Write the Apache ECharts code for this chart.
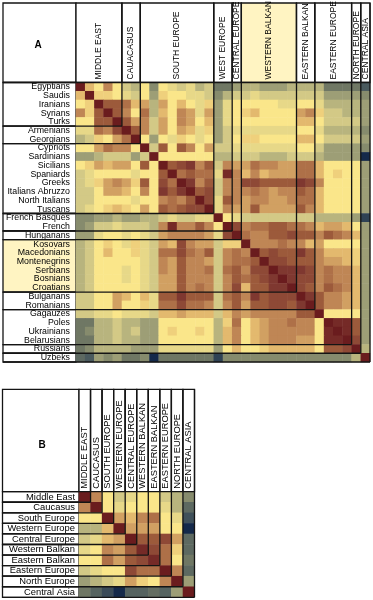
<!DOCTYPE html>
<html><head><meta charset="utf-8">
<script src="https://cdn.jsdelivr.net/npm/echarts@6/dist/echarts.min.js"></script>
<style>html,body{margin:0;padding:0;background:#fff}#c{width:373px;height:600px}</style>
</head><body><div id="c"></div>
<script>
// ---------- DATA ----------
const popsA = ['Egyptians','Saudis','Iranians','Syrians','Turks','Armenians','Georgians','Cypriots','Sardinians','Sicilians','Spaniards','Greeks','Italians Abruzzo','North Italians','Tuscans','French Basques','French','Hungarians','Kosovars','Macedonians','Montenegrins','Serbians','Bosnians','Croatians','Bulgarians','Romanians','Gagauzes','Poles','Ukrainians','Belarusians','Russians','Uzbeks'];
const groupNamesA = ['MIDDLE EAST','CAUACASUS','SOUTH EUROPE','WEST EUROPE','CENTRAL EUROPE','WESTERN BALKAN','EASTERN BALKAN','EASTERN EUROPE','NORTH EUROPE','CENTRAL ASIA'];
const groupSizesA = [5,2,8,2,1,6,2,4,1,1];
const matrixA = [
[10,6,5,7,5,4,3.5,5,2.5,5,4.5,4,4.5,3.5,4,2, 2,3,3.5,3.5,3,3,3,3.5,3.5,3.5,3.5,2,2,2,2,1],
[6,10,5.5,5.5,5,4.5,4,5,3,5.5,5,5,4.5,4.5,4,2.5, 3.5,4,4,4.5,4,4,4,4,4,4,4,3,3,3,3,2.5],
[5,5.5,10,8,8,7.5,6,6.5,3.5,6.5,5,6,5,4.5,5.5,3, 4.5,5,5,5,5,5,4.5,4.5,5,5,4.5,3.5,3.5,3.5,3.5,3],
[7,5.5,8,10,8,7,5,7.5,3.5,6,5,7,6.5,4.5,6.5,3, 4.5,5,5.5,6,5,5,5,5,6.5,7,5.5,4,4,3.5,3.5,3],
[5,5,8,8,10,8,6.5,7,4,6.5,5,7,6.5,5,6,3, 4.5,5,5,5,5,5,5,5,6,6,5,4,4,4,4,3],
[4.5,4.5,7.5,7,8.5,10,8,7,4,6.5,5,6.5,6,4.5,5.5,3, 4,4.5,4.5,4.5,4.5,4.5,4.5,4.5,5,5,4.5,3.5,3.5,3.5,3.5,2.5],
[3.5,4,5.5,5,6.5,7.5,10,5,3,5,4.5,5.5,5,4.5,5,3, 4,5,5.5,5.5,5,5,5,5,6,6,5,4,4,4,4,3],
[5,5,6.5,7.5,7,7,5,10,4,8,5,8,7,5,6.5,4, 4,4.5,4.5,4.5,4.5,4.5,4.5,4.5,5,5,4,3,3,3,3,2.5],
[3,3,3.5,4,4,4,3,4,10,5,5,5,5,5,5,3.5, 3.5,4,4,4,3.5,3.5,3.5,4,4,4,3.5,3,3,3,3,0],
[5,5.5,6.5,6,6.5,6.5,5,8,5,10,8,8.5,9,7,8,4, 7,6.5,6.5,7.5,7,7,6.5,6.5,7.5,7.5,6,5,5,5,5,3],
[4,4.5,5,5,5,5,4.5,5,5,8,10,7.5,8,7.5,7.5,4.5, 9.5,7,6,7,6,6.5,6.5,6.5,7.5,7.5,6,5,5.5,5,5,3],
[4,4.5,5.5,6.5,7,6.5,5.5,8,5,8.5,7.5,10,9,7,8,4, 7,7,8.5,8.5,8,8,8,8,9,8.5,7,5,5,5,5,3],
[4,4,5,6.5,6.5,6,5,7,5,9,8,9,10,8,8.5,4, 7,7,7,7.5,7,6.5,7,7,8,7.5,6,5,5,5,5,3],
[4,4,5,5,5,5,4.5,5,5,7,7.5,7,8,10,8.5,4.5, 8,7,6.5,7,7,6.5,6.5,7,7.5,7.5,6,5,5,5,5,3],
[4,4.5,5,5.5,6,5.5,5,6.5,5,8,7.5,8,8.5,8.5,10,4.5, 7,6.5,6.5,8,6.5,6.5,6.5,6.5,8,7,6,5,5,5,5,3],
[2.5,2.5,3,3,3.5,3,3,3.5,3.5,4,4.5,4,4,4.5,4.5,10, 5,4.5,4,4,4,4,4,4,4,4,3.5,3.5,3.5,3.5,3,0.5],
[2.5,3,4,4,4.5,4,4,4,3.5,7,9.5,7,7,8,7,5, 10,8.5,7,7.5,7.5,8,8,7.5,7.5,7,6,6.5,6.5,6,5,3],
[3,3,4.5,5,5,4.5,5,4.5,4,6.5,7,7,7,7,6.5,4.5, 8.5,10,7.5,7,7,8,8,8.5,8,8,7,8,7.5,7,6,3],
[3.5,4,5,5.5,5,4.5,5.5,4.5,4,6.5,6,8.5,7,6.5,6.5,4, 5.5,5.5,10,7,7,7,7.5,7,7,6,6.5,5,5,5,5,3],
[3.5,4,5,6,5,5,5.5,4.5,4,7.5,7.5,8.5,7.5,7,8,4, 7,7.5,7,10,8,8.5,8,8,9,8,7,6,6,6,5.5,3],
[3.5,4,5,5,5,5,5,4.5,4,7,6.5,8,7,7,6.5,4, 7,7.5,7.5,8,10,8.5,8.5,8,8,8,7,6.5,6.5,6,5.5,3],
[3.5,4,5,5,5,4.5,5,4.5,4,7,6.5,8,7,7,7.5,4, 7.5,8,7,8.5,8.5,10,9,9,9,8.5,7,7.5,7,7,6,3],
[3.5,4,5,5,5,4.5,5,4.5,4,6.5,6.5,8,7,7,7,4, 7,8,7.5,8,8.5,9,10,9,8.5,8.5,7,7.5,7,7,6,3],
[3.5,4,5,5,5,5,5,4.5,4,6.5,6.5,8,7,7.5,7,4, 7,8.5,6,8,8,9,9,10,8.5,8,7,8,7.5,7,6,3],
[4,4,5,5,6.5,6,5,6,4.5,8,8,9,8,8,8,4, 7.5,8,7,9,8,8.5,8.5,8.5,10,9,8,7,7,6.5,6,3],
[4,4,5,5,6.5,5,5,5.5,4.5,7.5,7.5,8.5,7.5,7.5,7,4, 7,8,6.5,8,8,8.5,8.5,8,9,10,8,7,7,6.5,6,3],
[4,4,4.5,4.5,5,4.5,4.5,4.5,4,6,6,6.5,6,6,6,4, 6,7,6.5,7,7,7,7,7,8,8,10,5,5,5,5,3],
[2,2,3.5,3.5,4,3.5,3.5,3,3,5,5,5,5,5,5,3.5, 5.5,7.5,5,6,6.5,7,7,7.5,7,7,5,10,9.5,9.5,8,3],
[2,2.5,3.5,3.5,4,3.5,4,3,3,5,5.5,5,5,5.5,5,3.5, 6,7,5,6,6.5,7,7,7,7,7,5,9.5,10,9.5,8,3],
[2,2,3.5,3.5,4,3.5,3.5,3,3,5,5,5,5,5,5,3.5, 6,7,5,6,6.5,7,7,7,6.5,6.5,5,9.5,9.5,10,8.5,3],
[2,2.5,3.5,3.5,3.5,3.5,3,3,3,4.5,4.5,4.5,4.5,4.5,4.5,3, 5,6,5,5,5.5,6,6,6,6,6,5,8,8,8.5,10,3.5],
[1.5,1,3,2.5,3,2,2,2.5,0,2,2,2,2,2,2,0.5, 2.5,2.5,2.5,2.5,2.5,2.5,2.5,2.5,2.5,2.5,2.5,2.5,2.5,2.5,3.5,10]
];
const regionsB = ['Middle East','Caucasus','South Europe','Western Europe','Central Europe','Western Balkan','Eastern Balkan','Eastern Europe','North Europe','Central Asia'];
const headersB = ['MIDDLE EAST','CAUCASUS','SOUTH EUROPE','WESTERN EUROPE','CENTRAL EUROPE','WESTERN BALKAN','EASTERN BALKAN','EASTERN EUROPE','NORTH EUROPE','CENTRAL ASIA'];
const matrixB = [
[10,7,5,4,4.5,5,5,4,3.5,2.5],
[7,10,5,4.5,5,5,5,4.5,3.5,1.5],
[5,5,10,6.5,6,7,7.5,5,4.5,0.8],
[3.5,3.5,6,10,6.5,6.5,6.5,5,5,0],
[4,4.5,6,6.5,10,8,8,8.5,6.5,1.5],
[4.5,5,7,6.5,8,9.5,8.5,7.5,5.5,1.5],
[5,5,7.5,6.5,8,8.5,9.5,7.5,5,2],
[4,4.5,5,5,8.5,7.5,7.5,10,7,1.5],
[3,3.5,4,4.5,6.5,5.5,5,7,10,3],
[2,1.3,0.7,0,1.3,1.3,1.7,1.3,3,10]
];
const scaleColors = ['#14294a','#4a5a5e','#6f7764','#9d9e76','#d3c986','#fae68a','#e3b96e','#bf8655','#9c5a3b','#7f3830','#6a1c1e'];

// ---------- CHART ----------
const chart = echarts.init(document.getElementById('c'));
const FONT = '"Liberation Sans", Arial, sans-serif';
function toData(m){const d=[];m.forEach((r,i)=>r.forEach((v,j)=>d.push([j,i,v])));return d;}
const hidden = {axisLine:{show:false},axisTick:{show:false},splitLine:{show:false},splitArea:{show:false}};
chart.setOption({
  animation:false,
  backgroundColor:'#fff',
  grid:[{left:76,top:82.5,width:294,height:279.5},{left:79,top:491.7,width:115.5,height:105.6}],
  xAxis:[
    Object.assign({type:'category',gridIndex:0,data:popsA,axisLabel:{show:false}},hidden),
    Object.assign({type:'category',gridIndex:1,data:regionsB,axisLabel:{show:false}},hidden)
  ],
  yAxis:[
    Object.assign({type:'category',gridIndex:0,data:popsA,inverse:true,z:20,
      axisLabel:{interval:0,fontSize:8.8,color:'#000',margin:6,fontFamily:FONT}},hidden),
    Object.assign({type:'category',gridIndex:1,data:regionsB,inverse:true,z:20,
      axisLabel:{interval:0,fontSize:9.4,color:'#000',margin:4,fontFamily:FONT}},hidden)
  ],
  visualMap:{show:false,type:'continuous',min:0,max:10,dimension:2,seriesIndex:[0,1],inRange:{color:scaleColors}},
  series:[
    {type:'heatmap',xAxisIndex:0,yAxisIndex:0,data:toData(matrixA),itemStyle:{borderWidth:0},emphasis:{disabled:true}},
    {type:'heatmap',xAxisIndex:1,yAxisIndex:1,data:toData(matrixB),itemStyle:{borderWidth:0},emphasis:{disabled:true}}
  ]
});

const LINE='#141414', LW=1.3, HL='#fff4c2';
const els=[];
function panel(ax, sizes, names, hdrTop, lblLeft, hdrFont, fillIdx, letter, letterXY){
  const x0=chart.convertToPixel({xAxisIndex:ax},0), x1=chart.convertToPixel({xAxisIndex:ax},1);
  const y0=chart.convertToPixel({yAxisIndex:ax},0), y1=chart.convertToPixel({yAxisIndex:ax},1);
  const bw=x1-x0, bh=y1-y0;
  const X=k=>x0-bw/2+k*bw, Y=k=>y0-bh/2+k*bh;
  const top=Y(0), left=X(0);
  els.push({type:'rect',z:1,shape:{x:lblLeft,y:hdrTop,width:left-lblLeft,height:top-hdrTop},style:{fill:'#fff',stroke:LINE,lineWidth:LW}});
  els.push({type:'text',z:31,x:letterXY[0],y:letterXY[1],style:{text:letter,font:'bold 10px '+FONT,fill:'#000',align:'center',verticalAlign:'middle',textAlign:'center',textVerticalAlign:'middle'}});
  let s=0;
  sizes.forEach((n,gi)=>{
    const e=s+n, fill=gi===fillIdx?HL:'#fff';
    els.push({type:'rect',z:1,shape:{x:X(s),y:hdrTop,width:X(e)-X(s),height:top-hdrTop},style:{fill:fill,stroke:LINE,lineWidth:LW}});
    els.push({type:'text',z:31,x:(X(s)+X(e))/2,y:top-3,rotation:Math.PI/2,style:{text:names[gi],font:hdrFont+'px '+FONT,fill:'#000',align:'left',verticalAlign:'middle',textAlign:'left',textVerticalAlign:'middle'}});
    els.push({type:'rect',z:1,shape:{x:lblLeft,y:Y(s),width:left-lblLeft,height:Y(e)-Y(s)},style:{fill:fill,stroke:LINE,lineWidth:LW}});
    els.push({type:'line',z:30,shape:{x1:X(e),y1:hdrTop,x2:X(e),y2:Y(e)},style:{stroke:LINE,lineWidth:LW}});
    els.push({type:'line',z:30,shape:{x1:lblLeft,y1:Y(e),x2:X(e),y2:Y(e)},style:{stroke:LINE,lineWidth:LW}});
    s=e;
  });
  els.push({type:'line',z:30,shape:{x1:lblLeft,y1:top,x2:X(s),y2:top},style:{stroke:LINE,lineWidth:LW}});
}
panel(0, groupSizesA, groupNamesA, 3, 3, 8.5, 5, 'A', [38,45]);
panel(1, regionsB.map(()=>1), headersB, 389.3, 2.5, 9.3, -1, 'B', [42,445]);
chart.setOption({graphic:{elements:els}});
</script></body></html>
